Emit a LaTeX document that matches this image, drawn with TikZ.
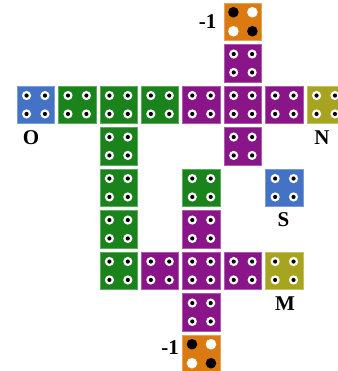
\documentclass[tikz,border=0pt]{standalone}
\usepackage{fontspec}
\setmainfont{Liberation Serif}
\definecolor{tblue}{HTML}{4472C4}
\definecolor{tgreen}{HTML}{1B831B}
\definecolor{tpurple}{HTML}{8A1589}
\definecolor{tyellow}{HTML}{A7A520}
\definecolor{torange}{HTML}{DC7A12}
\begin{document}
\begin{tikzpicture}[x=1pt,y=-1pt,
  tile/.style={minimum size=37.5pt, inner sep=0pt, draw=#1!70!white, line width=0.7pt, fill=#1},
  lbl/.style={font=\bfseries\fontsize{21}{21}\selectfont, inner sep=0pt}]
\useasboundingbox (0,0) rectangle (337,371);
% regular tiles
\foreach \c/\r/\col in {5/1/tpurple,
  0/2/tblue,1/2/tgreen,2/2/tgreen,3/2/tgreen,4/2/tpurple,5/2/tpurple,6/2/tpurple,7/2/tyellow,
  2/3/tgreen,5/3/tpurple,
  2/4/tgreen,4/4/tgreen,6/4/tblue,
  2/5/tgreen,4/5/tpurple,
  2/6/tgreen,3/6/tpurple,4/6/tpurple,5/6/tpurple,6/6/tyellow,
  4/7/tpurple}{
  \node[tile=\col] (t\c\r) at ({35.75+41.43*\c},{21.75+41.5*\r}) {};
  \foreach \dx/\dy in {-9.2/-9.2,9.2/-9.2,-9.2/9.2,9.2/9.2}{
    \fill[white] ([shift={(\dx,\dy)}]t\c\r.center) circle (4.6pt);
    \fill[black] ([shift={(\dx,\dy)}]t\c\r.center) circle (2.1pt);
  }
}
% orange tiles
\foreach \c/\r in {5/0,4/8}{
  \node[tile=torange] (t\c\r) at ({35.75+41.43*\c},{21.75+41.5*\r}) {};
  \fill[black] ([shift={(-9.5,-9.5)}]t\c\r.center) circle (5.3pt);
  \fill[white] ([shift={(9.5,-9.5)}]t\c\r.center) circle (5.3pt);
  \fill[white] ([shift={(-9.5,9.5)}]t\c\r.center) circle (5.3pt);
  \fill[black] ([shift={(9.5,9.5)}]t\c\r.center) circle (5.3pt);
}
% labels
\node[lbl] (lo) at (31,137.5) {O};
\node[lbl] (ln) at (322,137.5) {N};
\node[lbl] (ls) at (283.5,220) {S};
\node[lbl] (lm) at (285,304) {M};
\node[lbl] (lt) at (207.5,21.5) {-1};
\node[lbl] (lb) at (170,348) {-1};
\end{tikzpicture}
\end{document}
